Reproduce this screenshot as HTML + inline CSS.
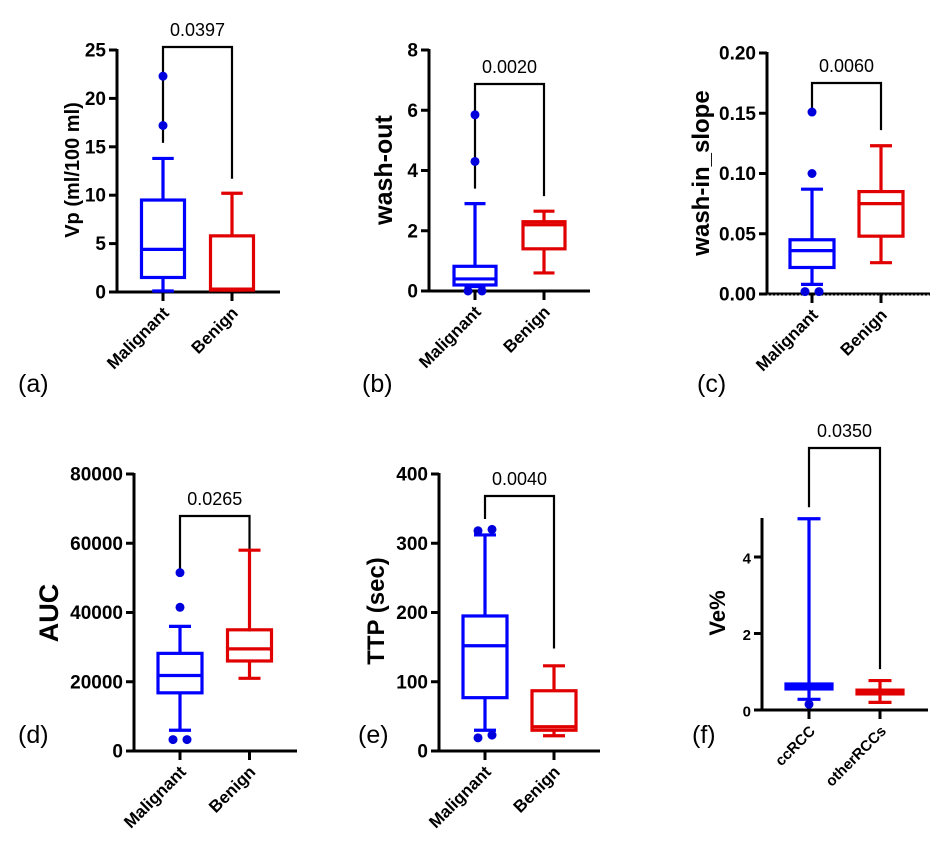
<!DOCTYPE html>
<html><head><meta charset="utf-8">
<style>
html,body{margin:0;padding:0;background:#fff;}
svg{display:block;font-family:"Liberation Sans",Arial,sans-serif;}
</style></head>
<body>
<svg id="fig" width="942" height="848" viewBox="0 0 942 848" xmlns="http://www.w3.org/2000/svg">
<rect width="942" height="848" fill="#fff"/>
</svg>
<script>
// ---- data (five-number summaries: min, q1, median, q3, max) ----
const aCategories = ["Malignant","Benign"];
const aMalignant = [0.1, 1.5, 4.4, 9.5, 13.8];
const aBenign = [0.2, 0.2, 0.3, 5.8, 10.2];
const aOutMal = [17.2, 22.3];
const aOutBen = [];
const aTicks = [0,5,10,15,20,25];
const aP = "0.0397";

const bCategories = ["Malignant","Benign"];
const bMalignant = [0.15, 0.2, 0.4, 0.82, 2.9];
const bBenign = [0.6, 1.4, 2.2, 2.3, 2.65];
const bOutMal = [4.3, 5.85, 0.0, 0.0];
const bOutBen = [];
const bTicks = [0,2,4,6,8];
const bP = "0.0020";

const cCategories = ["Malignant","Benign"];
const cMalignant = [0.008, 0.022, 0.036, 0.045, 0.087];
const cBenign = [0.026, 0.048, 0.075, 0.085, 0.123];
const cOutMal = [0.1, 0.151, 0.002, 0.002];
const cOutBen = [];
const cTicks = [0,0.05,0.10,0.15,0.20];
const cTickLabels = ["0.00","0.05","0.10","0.15","0.20"];
const cP = "0.0060";

const dCategories = ["Malignant","Benign"];
const dMalignant = [6000, 16800, 21800, 28200, 36000];
const dBenign = [21000, 26000, 29500, 35000, 58000];
const dOutMal = [41500, 51500, 3300, 3300];
const dOutBen = [];
const dTicks = [0,20000,40000,60000,80000];
const dP = "0.0265";

const eCategories = ["Malignant","Benign"];
const eMalignant = [30, 77, 152, 195, 312];
const eBenign = [22, 30, 35, 87, 123];
const eOutMal = [318, 320, 19, 23];
const eOutBen = [];
const eTicks = [0,100,200,300,400];
const eP = "0.0040";

const fCategories = ["ccRCC","otherRCCs"];
const fCcRCC = [0.28, 0.55, 0.6, 0.68, 5.0];
const fOther = [0.2, 0.42, 0.47, 0.52, 0.77];
const fOutCc = [0.15];
const fOutOther = [];
const fTicks = [0,2,4];
const fP = "0.0350";

const NS = "http://www.w3.org/2000/svg";
const svg = document.getElementById('fig');
function mk(tag, attrs, parent, text){
  const e = document.createElementNS(NS, tag);
  for (const k in attrs) e.setAttribute(k, attrs[k]);
  if (text !== undefined) e.textContent = text;
  (parent || svg).appendChild(e);
  return e;
}

function panel(L, cats, s1, s2, o1, o2, ticks, tickLabels, p){
  const g = mk('g', {});
  
  
  const y = v => L.y0 - (v - L.vmin) / (L.vmax - L.vmin) * (L.y0 - L.y1);
  const xs = [L.xc1, L.xc2];
  const ax = mk('line', {x1:L.ax, y1:L.axTop !== undefined ? L.axTop : y(L.vmax) - 1, x2:L.ax, y2:L.y0 + 1.5, stroke:'#000','stroke-width':3}, g);
  
  
  ticks.forEach((t, i) => {
    const yy = y(t);
    mk('line', {x1:L.ax - 8, y1:yy, x2:L.ax, y2:yy, stroke:'#000','stroke-width':3}, g);
    const tl = mk('text', {x:L.ax - 11, y:yy + 6.5, 'text-anchor':'end','font-size':L.tfs || 19,'font-weight':'bold'}, g, tickLabels ? tickLabels[i] : String(t));
    
    
  });
  const xa = mk('line', {x1:L.ax - 1.5, y1:L.y0, x2:L.axEnd, y2:L.y0, stroke:'#000','stroke-width':3}, g);
  
  
  if (L.dotted) mk('line', {x1:L.ax, y1:L.y0 + 1, x2:L.axEnd, y2:L.y0 + 1, stroke:'#999','stroke-width':1,'stroke-dasharray':'2 2'}, g);
  xs.forEach((xc, i) => {
    mk('line', {x1:xc, y1:L.y0, x2:xc, y2:L.y0 + 9, stroke:'#000','stroke-width':3}, g);
    const lab = mk('text', {x:0, y:0, 'text-anchor':'end','font-size':L.xfs || 17,'font-weight':'bold',
      transform:`translate(${xc + 7},${L.y0 + 22}) rotate(-45)`}, g, cats[i]);
    
    
  });
  const yt = mk('text', {x:0, y:0, 'text-anchor':'middle','font-size':L.yfs,'font-weight':'bold',
    transform:`translate(${L.ytx},${L.yty}) rotate(-90)`}, g, L.ytitle);
  
  
  const br = mk('path', {d:`M${xs[0]},${y(L.bl)} V${L.by} H${xs[1]} V${y(L.br)}`, fill:'none', stroke:'#000','stroke-width':2.2}, g);
  
  
  const pt = mk('text', {x:(xs[0] + xs[1]) / 2, y:L.by - 11, 'text-anchor':'middle','font-size':18}, g, p);
  
  
  [s1, s2].forEach((s, i) => {
    const col = i === 0 ? '#0000ff' : '#e00000';
    const xc = xs[i], w = L.bw;
    const bg = mk('g', {stroke:col,'stroke-width':3.2, fill:'none'}, g);
    
    
    mk('line', {x1:xc, y1:y(s[0]), x2:xc, y2:y(s[1])}, bg);
    mk('line', {x1:xc, y1:y(s[3]), x2:xc, y2:y(s[4])}, bg);
    mk('line', {x1:xc - w/4, y1:y(s[0]), x2:xc + w/4, y2:y(s[0])}, bg);
    mk('line', {x1:xc - w/4, y1:y(s[4]), x2:xc + w/4, y2:y(s[4])}, bg);
    mk('rect', {x:xc - w/2, y:y(s[3]), width:w, height:Math.max(0.5, y(s[1]) - y(s[3]))}, bg);
    mk('line', {x1:xc - w/2, y1:y(s[2]), x2:xc + w/2, y2:y(s[2])}, bg);
  });
  [o1, o2].forEach((o, i) => {
    const col = i === 0 ? '#0000dd' : '#e00000';
    const seen = {};
    o.forEach(v => {
      const k = v.toFixed(6);
      const n = seen[k] = (seen[k] || 0) + 1;
      let dx = 0;
      const near = o.filter(u => Math.abs(y(u) - y(v)) < 8);
      if (near.length > 1) {
        const idx = near.indexOf(v) + (n - 1);
        dx = idx % 2 === 0 ? -7 : 7;
      }
      const c = mk('circle', {cx:xs[i] + dx, cy:y(v), r:4.5, fill:col}, g);
      
      
    });
  });
  const pl = mk('text', {x:L.lx, y:L.ly, 'font-size':25}, g, L.label);
  
  
}

panel({id:'a', vmin:0, vmax:25, y0:292, y1:50, ax:117, axEnd:280, xc1:163, xc2:232, bw:43,
  ytitle:'Vp (ml/100 ml)', ytx:79, yty:170, yfs:20, bl:15.4, br:11.7, by:47, lx:18, ly:392, label:'(a)'},
  aCategories, aMalignant, aBenign, aOutMal, aOutBen, aTicks, null, aP);

panel({id:'b', vmin:0, vmax:8, y0:291, y1:50, ax:429, axEnd:590, xc1:475, xc2:544, bw:42,
  ytitle:'wash-out', ytx:392, yty:170, yfs:25, bl:3.4, br:3.15, by:84, lx:362, ly:392, label:'(b)'},
  bCategories, bMalignant, bBenign, bOutMal, bOutBen, bTicks, null, bP);

panel({id:'c', vmin:0, vmax:0.20, y0:294, y1:53, ax:767, axEnd:930, xc1:812, xc2:881, bw:44, dotted:true,
  ytitle:'wash-in_slope', ytx:709, yty:173, yfs:24, bl:0.151, br:0.136, by:83, lx:697, ly:392, label:'(c)'},
  cCategories, cMalignant, cBenign, cOutMal, cOutBen, cTicks, cTickLabels, cP);

panel({id:'d', vmin:0, vmax:80000, y0:751, y1:474, ax:134, axEnd:297, xc1:180, xc2:249.5, bw:44,
  ytitle:'AUC', ytx:58, yty:613, yfs:27, bl:51500, br:34500, by:516, lx:18, ly:743, label:'(d)'},
  dCategories, dMalignant, dBenign, dOutMal, dOutBen, dTicks, null, dP);

panel({id:'e', vmin:0, vmax:400, y0:751, y1:474, ax:439, axEnd:600, xc1:485, xc2:554, bw:44,
  ytitle:'TTP (sec)', ytx:384, yty:611, yfs:24, bl:335, br:148, by:496, lx:358, ly:743, label:'(e)'},
  eCategories, eMalignant, eBenign, eOutMal, eOutBen, eTicks, null, eP);

panel({id:'f', vmin:0, vmax:4, y0:710, y1:557, ax:762, axTop:518, axEnd:928, xc1:809, xc2:880, bw:46, tfs:15, xfs:15,
  ytitle:'Ve%', ytx:725, yty:613, yfs:22, bl:5.3, br:1.07, by:448, lx:692, ly:743, label:'(f)'},
  fCategories, fCcRCC, fOther, fOutCc, fOutOther, fTicks, null, fP);
</script>
</body></html>
